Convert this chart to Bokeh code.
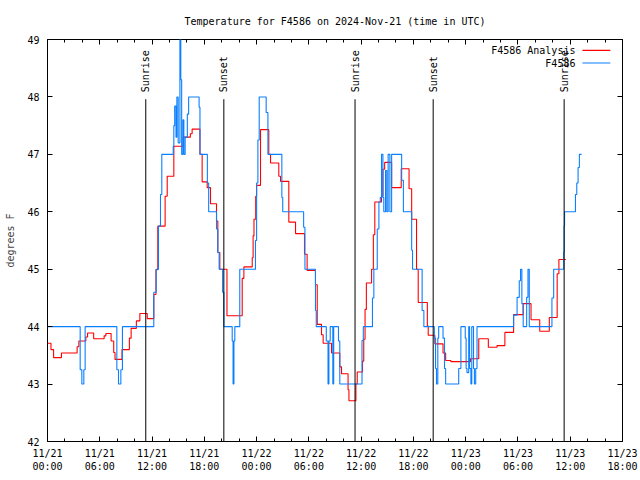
import math
from bokeh.plotting import figure
from bokeh.models import Range1d, FixedTicker, LinearAxis, Label, ColumnDataSource
from bokeh.embed import file_html
from bokeh.resources import INLINE
from bokeh.core.properties import value

FONT = "DejaVu Sans Mono"

# ---- axes ----
tick_hours = [0, 6, 12, 18, 24, 30, 36, 42, 48, 54, 60, 66]
tick_labels = ["11/21\n00:00", "11/21\n06:00", "11/21\n12:00", "11/21\n18:00",
               "11/22\n00:00", "11/22\n06:00", "11/22\n12:00", "11/22\n18:00",
               "11/23\n00:00", "11/23\n06:00", "11/23\n12:00", "11/23\n18:00"]
minor_hours = list(range(0, 67, 2))
y_ticks = [42, 43, 44, 45, 46, 47, 48, 49]

# ---- F4586 Analysis (hours since 2024-11-21 00:00 UTC, deg F) ----
analysis_hours = [0.0, 0.4, 0.7, 1.6, 3.4, 3.6, 4.4, 4.6, 5.3, 6.5, 6.7, 7.3, 7.6, 7.75, 8.55,
                  9.4, 9.6, 10.2, 10.6, 11.45, 12.2, 12.45, 12.66, 13.5, 13.74, 14.5, 15.57,
                  16.4, 16.6, 17.5, 17.75, 18.33, 18.71, 19.4, 19.55, 19.78, 20.6, 22.35, 22.54,
                  23.5, 23.6, 23.7, 23.9, 24.0, 24.45, 25.4, 25.6, 26.55, 26.75, 27.7, 28.47,
                  29.5, 29.8, 30.76, 30.96, 31.45, 31.64, 32.6, 33.55, 33.75, 34.5, 34.6, 35.4,
                  35.55, 36.16, 36.3, 36.45, 36.6, 37.2, 37.4, 37.57, 38.34, 38.5, 38.7, 39.5,
                  40.6, 41.5, 41.8, 42.36, 42.55, 43.6, 43.7, 44.46, 45.4, 45.7, 46.3, 48.55,
                  49.5, 50.6, 51.6, 52.5, 53.5, 54.6, 55.5, 56.5, 57.6, 58.5, 58.7, 59.5]
analysis_temp = [43.71, 43.6, 43.46, 43.54, 43.65, 43.75, 43.82, 43.89, 43.79, 43.84, 43.88,
                 43.75, 43.55, 43.43, 43.6, 43.8, 43.97, 44.1, 44.23, 44.14, 44.56, 44.99,
                 45.75, 46.27, 46.62, 47.14, 47.3, 47.36, 47.44, 47.0, 46.52, 46.42, 46.14,
                 45.84, 45.29, 45.0, 44.19, 44.84, 45.04, 45.2, 45.58, 45.87, 46.27, 46.46,
                 47.43, 47.0, 46.85, 46.62, 46.53, 45.82, 45.62, 45.26, 44.98, 44.73, 44.04,
                 43.86, 43.71, 43.54, 43.3, 43.18, 42.9, 42.71, 43.0, 43.21, 43.4, 43.78, 44.3,
                 44.76, 45.0, 45.6, 46.17, 46.27, 46.74, 46.86, 46.42, 46.75, 46.4, 45.87, 45.0,
                 44.42, 44.01, 43.85, 43.7, 43.54, 43.41, 43.39, 43.44, 43.79, 43.64, 43.67,
                 43.9, 44.21, 44.4, 44.12, 43.92, 44.16, 44.92, 45.17, 45.17]

# ---- F4586 station observations ----
station_hours = [0.0, 3.75, 3.94, 4.17, 4.32, 7.96, 8.15, 8.42, 8.6, 12.2, 12.47, 12.74, 12.97,
                 13.12, 14.43, 14.5, 14.6, 14.75, 14.85, 15.0, 15.2, 15.3, 15.4, 15.55, 15.65,
                 15.8, 16.05, 16.2, 17.4, 17.5, 18.35, 18.5, 19.4, 19.55, 19.7, 20.1, 20.25,
                 21.2, 21.3, 21.4, 21.5, 22.07, 23.87, 24.0, 24.15, 24.3, 25.1, 25.3, 26.9,
                 27.0, 29.4, 29.55, 30.76, 30.85, 32.0, 32.2, 32.3, 32.45, 32.75, 32.85, 33.4,
                 33.55, 36.1, 36.25, 37.3, 37.46, 37.85, 38.04, 38.2, 38.34, 38.5, 38.6, 38.8,
                 38.95, 39.1, 39.3, 39.5, 40.65, 40.85, 41.8, 41.9, 43.0, 43.2, 44.4, 44.54,
                 44.65, 44.8, 44.9, 45.4, 45.57, 45.7, 47.2, 47.45, 47.95, 48.05, 48.15, 48.35,
                 48.45, 48.6, 48.7, 48.9, 49.0, 49.15, 49.3, 53.5, 53.9, 54.15, 54.3, 54.45,
                 54.6, 55.0, 55.15, 55.3, 57.9, 58.1, 59.25, 59.3, 59.35, 60.6, 60.75, 60.9,
                 61.05, 61.3]
station_temp = [44.0, 43.25, 43.0, 43.25, 44.0, 43.25, 43.0, 43.25, 44.0, 44.6, 45.0, 45.75,
                46.3, 47.0, 47.14, 47.5, 47.84, 47.3, 48.0, 47.2, 49.0, 48.3, 47.0, 47.6, 47.0,
                47.3, 47.7, 48.0, 47.82, 47.0, 46.5, 46.0, 45.7, 45.29, 45.0, 44.6, 44.0,
                43.75, 43.0, 43.75, 44.0, 45.0, 45.5, 46.5, 47.25, 48.0, 47.73, 47.0, 46.25,
                46.0, 45.73, 45.0, 44.28, 44.0, 43.75, 43.0, 43.75, 44.0, 43.0, 44.0, 43.75,
                43.0, 43.76, 44.0, 44.5, 45.0, 45.7, 46.17, 46.25, 47.0, 46.25, 46.0, 46.72,
                46.0, 47.0, 46.0, 47.0, 46.55, 46.0, 45.33, 45.0, 44.28, 44.0, 43.8, 43.27,
                43.0, 43.8, 44.0, 43.8, 43.27, 43.0, 43.27, 44.0, 43.8, 43.27, 43.2, 44.0,
                43.27, 43.0, 44.0, 43.27, 43.0, 43.27, 44.0, 44.2, 44.51, 44.8, 45.0, 44.4,
                44.0, 44.51, 45.0, 44.0, 44.5, 45.0, 45.3, 45.75, 46.0, 46.3, 46.5, 46.77,
                47.0, 47.0]

# ---- sun events ----
sun_hours = [11.28, 20.24, 35.3, 44.27, 59.3]
sun_labels = ["Sunrise", "Sunset", "Sunrise", "Sunset", "Sunrise"]

p = figure(width=640, height=480, output_backend="svg", toolbar_location=None,
           x_range=Range1d(0, 66), y_range=Range1d(42, 49),
           x_axis_type=None, y_axis_type=None,
           min_border_left=47, min_border_right=18, min_border_top=39, min_border_bottom=39)
p.background_fill_color = "white"
p.border_fill_color = "white"
p.outline_line_color = "black"
p.outline_line_width = 1
p.grid.visible = False

p.title.text = "Temperature for F4586 on 2024-Nov-21 (time in UTC)"
p.title.align = "center"
p.title.vertical_align = "top"
p.title.text_font = FONT
p.title.text_font_size = "10px"
p.title.text_font_style = "normal"
p.title.text_color = "black"
p.title.standoff = 22


def style_axis(ax, ticks, show_labels):
    ax.major_tick_in = 5
    ax.major_tick_out = 0
    ax.minor_tick_in = 3
    ax.minor_tick_out = 0
    ax.major_tick_line_color = "black"
    ax.minor_tick_line_color = "black"
    ax.axis_line_color = None
    ax.major_label_text_font = FONT
    ax.major_label_text_color = "black"
    ax.major_label_text_font_size = "10px"
    if not show_labels:
        ax.major_label_overrides = {t: "" for t in ticks}
        ax.major_label_standoff = 0


xticker = FixedTicker(ticks=tick_hours, minor_ticks=minor_hours)
yticker = FixedTicker(ticks=y_ticks, minor_ticks=[])

xb = LinearAxis(ticker=xticker)
style_axis(xb, tick_hours, True)
xb.major_label_overrides = {h: lab for h, lab in zip(tick_hours, tick_labels)}
xb.major_label_standoff = 6
p.add_layout(xb, "below")

xt = LinearAxis(ticker=xticker)
style_axis(xt, tick_hours, False)
p.add_layout(xt, "above")

yl = LinearAxis(ticker=yticker, axis_label="degrees F")
style_axis(yl, y_ticks, True)
yl.major_label_standoff = 8
yl.axis_label_text_font = FONT
yl.axis_label_text_font_size = "10px"
yl.axis_label_text_font_style = "normal"
yl.axis_label_standoff = 8
p.add_layout(yl, "left")

yr = LinearAxis(ticker=yticker)
style_axis(yr, y_ticks, False)
p.add_layout(yr, "right")

# data lines
p.step(analysis_hours, analysis_temp, mode="after", line_color="#ff0000", line_width=1.1)
p.step(station_hours, station_temp, mode="after", line_color="#0a7fff", line_width=1.1)

# sun lines and labels
sun_src = ColumnDataSource(dict(x=sun_hours, lab=sun_labels))
p.segment(x0="x", y0=42, x1="x", y1=47.96, source=sun_src, line_color="black", line_width=1)
p.text(x="x", y=48.08, text="lab", source=sun_src, angle=math.pi / 2,
       text_align="left", text_baseline="middle", text_font=value(FONT),
       text_font_size="10px", text_color="black")

# legend
legend_names = ["F4586 Analysis", "F4586"]
legend_colors = ["#ff0000", "#0a7fff"]
legend_y = [48.81, 48.59]
for name, col, ly in zip(legend_names, legend_colors, legend_y):
    p.add_layout(Label(x=60.6, y=ly, text=name, text_align="right", text_baseline="middle",
                       text_font=FONT, text_font_size="10px", text_color="black"))
leg_src = ColumnDataSource(dict(y=legend_y, c=legend_colors))
p.segment(x0=61.4, y0="y", x1=64.6, y1="y", source=leg_src, line_color="c", line_width=1.1)

open("out.html", "w").write(file_html(p, INLINE))
